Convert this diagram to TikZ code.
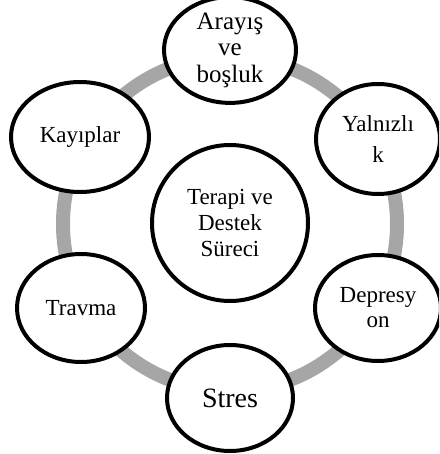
\documentclass[tikz,border=0pt]{standalone}
\usepackage{fontspec}
\setmainfont{Liberation Serif}
\usetikzlibrary{shapes.geometric}
\begin{document}
\begin{tikzpicture}[x=1pt,y=-1pt,
  bub/.style={ellipse, draw=black, line width=4pt, fill=white, inner sep=0pt,
    align=center, font=\fontsize{23}{26}\selectfont},
  ring/.style={draw=black!35, line width=14pt}]
\useasboundingbox (0,0) rectangle (439,454);
\clip (0,0) rectangle (439,454);
\coordinate (c) at (230,224);
\draw[ring] (c) circle[radius=167];
\node[bub, minimum width=156, minimum height=156] (center) at (230,223) {Terapi ve\\Destek\\Süreci};
\node[bub, minimum width=132, minimum height=92, font=\fontsize{25}{26.5}\selectfont] (arayis) at (230,50) {Arayış\\ve\\boşluk};
\node[bub, minimum width=124, minimum height=110, font=\fontsize{23}{31}\selectfont] (yalniz) at (378,139) {Yalnızlı\\k};
\node[bub, minimum width=126, minimum height=106, font=\fontsize{23}{25}\selectfont] (depres) at (378,308) {Depresy\\on};
\node[bub, minimum width=126, minimum height=106, font=\fontsize{28}{30}\selectfont] (stres) at (230,398) {Stres};
\node[bub, minimum width=128, minimum height=108] (travma) at (81,308) {Travma};
\node[bub, minimum width=138, minimum height=110] (kayip) at (80,137) {Kayıplar};
\end{tikzpicture}
\end{document}
